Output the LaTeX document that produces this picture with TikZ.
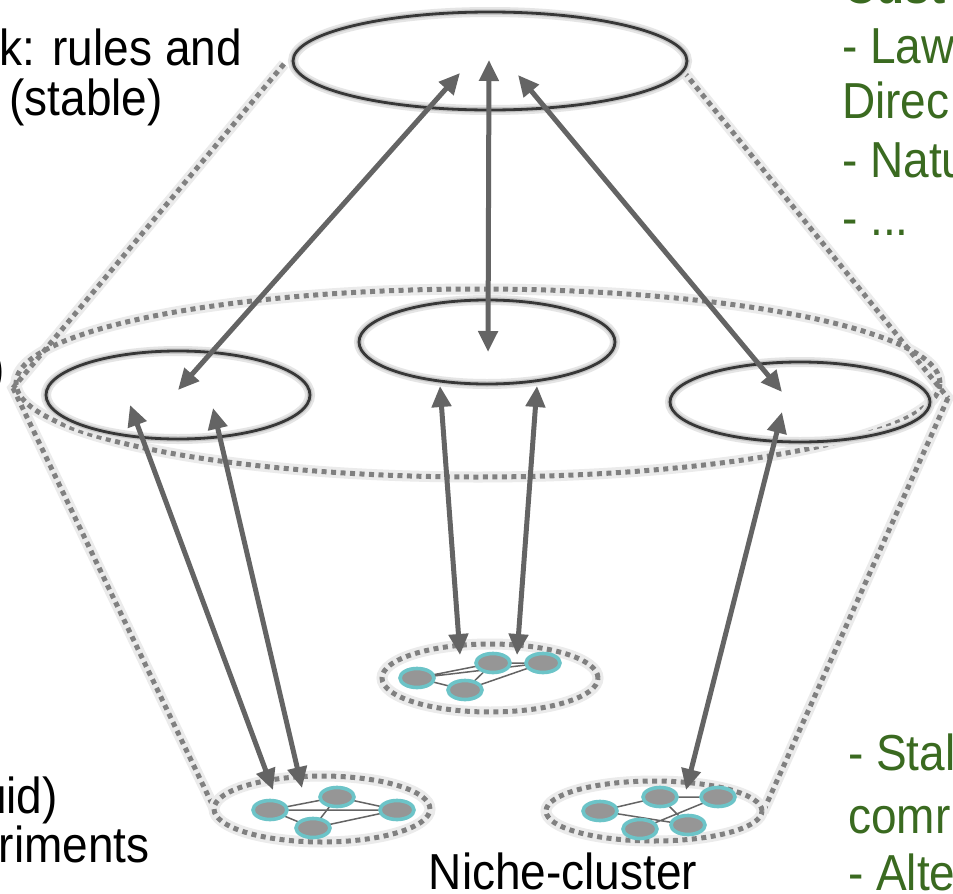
\documentclass[tikz,border=0pt]{standalone}
\usepackage{fontspec}
\setmainfont{Liberation Sans}
\usetikzlibrary{arrows.meta,shapes.geometric}
\definecolor{grn}{RGB}{58,106,32}
\definecolor{arr}{RGB}{100,100,100}
\definecolor{dots}{RGB}{128,128,128}
\definecolor{ring}{RGB}{55,55,55}
\definecolor{teal}{RGB}{108,196,200}
\definecolor{nfill}{RGB}{150,150,150}
\newcommand{\tall}[1]{\scalebox{1}[1.1]{#1}}
\tikzset{
  ringbox/.style={ellipse, inner sep=0pt, draw=ring, line width=2.8pt,
    preaction={draw=black!10, line width=10pt},
    preaction={draw=black!22, line width=5.5pt}},
  dotbox/.style={ellipse, inner sep=0pt, draw=dots, line width=5pt,
    dash pattern=on 5pt off 4.5pt,
    preaction={draw=black!8, line width=11pt, solid}},
  dotline/.style={draw=dots, line width=5pt, dash pattern=on 5pt off 4.5pt},
  dotshadow/.style={draw=black!8, line width=11pt},
  dblarrow/.style={draw=arr, line width=5pt,
    {Triangle[length=21pt,width=19pt]}-{Triangle[length=21pt,width=19pt]}},
  netnode/.style={ellipse, inner sep=0pt, minimum width=34pt, minimum height=19pt,
    fill=nfill, draw=teal, line width=3.6pt},
  netedge/.style={draw=arr, line width=1.5pt},
  bigtxt/.style={inner sep=0pt, font=\fontsize{46}{50}\selectfont},
}
\begin{document}
\begin{tikzpicture}[x=1pt,y=-1pt]
\useasboundingbox (0,0) rectangle (953,894);
\clip (0,0) rectangle (953,894);
\fill[white] (0,0) rectangle (953,894);

% cone outline coordinates
\coordinate (ltop) at (284,64);
\coordinate (lcorner) at (13,388);
\coordinate (lbot) at (214,808);
\coordinate (rtop) at (684,72);
\coordinate (rcorner) at (948,398);
\coordinate (rbot) at (763,812);

% shadows of cone lines
\draw[dotshadow] (ltop) -- (lcorner) -- (lbot);
\draw[dotshadow] (rtop) -- (rcorner) -- (rbot);

% big dotted ellipse
\node[dotbox, minimum width=924pt, minimum height=188pt] (mid) at (478,383) {};

% cone lines
\draw[dotline] (ltop) -- (lcorner);
\draw[dotline] (lcorner) -- (lbot);
\draw[dotline] (rtop) -- (rcorner);
\draw[dotline] (rcorner) -- (rbot);

% solid ellipses
\node[ringbox, minimum width=394pt, minimum height=98pt] (top) at (490,61) {};
\node[ringbox, minimum width=264pt, minimum height=88pt] (left) at (178,395) {};
\node[ringbox, minimum width=256pt, minimum height=84pt] (center) at (487,342) {};
\node[ringbox, minimum width=260pt, minimum height=80pt] (right) at (800,402) {};

% cluster ellipses
\node[dotbox, minimum width=216pt, minimum height=66pt] (cl1) at (322,809) {};
\node[dotbox, minimum width=216pt, minimum height=68pt] (cl2) at (490,678) {};
\node[dotbox, minimum width=216pt, minimum height=60pt] (cl3) at (654,811) {};

% network nodes: left cluster
\coordinate (a1) at (270,810);
\coordinate (a2) at (337,797);
\coordinate (a3) at (397,810);
\coordinate (a4) at (313,828);
\draw[netedge] (a1)--(a2) (a1)--(a3) (a1)--(a4) (a2)--(a3) (a2)--(a4) (a4)--(a3);
\node[netnode] (na1) at (a1) {};
\node[netnode] (na2) at (a2) {};
\node[netnode] (na3) at (a3) {};
\node[netnode] (na4) at (a4) {};

% center cluster
\coordinate (b1) at (417,678);
\coordinate (b2) at (493,663);
\coordinate (b3) at (543,663);
\coordinate (b4) at (465,690);
\draw[netedge] (b1)--(b2) (b1)--(b3) (b1)--(b4) (b4)--(b2) (b4)--(b3) (b2)--(b3);
\node[netnode] (nb1) at (b1) {};
\node[netnode] (nb2) at (b2) {};
\node[netnode] (nb3) at (b3) {};
\node[netnode] (nb4) at (b4) {};

% right cluster
\coordinate (c1) at (600,811);
\coordinate (c2) at (660,797);
\coordinate (c3) at (718,797);
\coordinate (c4) at (640,829);
\coordinate (c5) at (688,825);
\draw[netedge] (c1)--(c2) (c1)--(c5) (c2)--(c3) (c2)--(c5) (c4)--(c3);
\node[netnode] (nc1) at (c1) {};
\node[netnode] (nc2) at (c2) {};
\node[netnode] (nc3) at (c3) {};
\node[netnode] (nc4) at (c4) {};
\node[netnode] (nc5) at (c5) {};

% arrow end points
\coordinate (t1) at (460,73);
\coordinate (t2) at (489,60);
\coordinate (t3) at (518,75);
\coordinate (l1) at (178,390);
\coordinate (m1) at (488,352);
\coordinate (r1) at (782,392);
\coordinate (l2) at (130,405);
\coordinate (l3) at (213,408);
\coordinate (m2) at (440,386);
\coordinate (m3) at (537,386);
\coordinate (r2) at (782,412);
\coordinate (p1) at (273,790);
\coordinate (p2) at (302,788);
\coordinate (q1) at (460,655);
\coordinate (q2) at (517,655);
\coordinate (s1) at (686,790);

\draw[dblarrow] (l1) -- (t1);
\draw[dblarrow] (m1) -- (t2);
\draw[dblarrow] (r1) -- (t3);
\draw[dblarrow] (l2) -- (p1);
\draw[dblarrow] (l3) -- (p2);
\draw[dblarrow] (m2) -- (q1);
\draw[dblarrow] (m3) -- (q2);
\draw[dblarrow] (r2) -- (s1);

% texts (black)
\node[bigtxt, anchor=base east] (tx1) at (242,65) {\tall{k: rules and}};
\node[bigtxt, anchor=base east] (tx2) at (163,115) {\tall{(stable)}};
\node[bigtxt, anchor=base east] (tx3) at (5,385) {\tall{)}};
\node[bigtxt, anchor=base east] (tx4) at (58,813) {\tall{uid)}};
\node[bigtxt, anchor=base east] (tx5) at (150,862) {\tall{riments}};
\node[bigtxt, anchor=base] (tx6) at (563,889) {\tall{Niche-cluster}};

% texts (green)
\node[bigtxt, text=grn, anchor=base west, font=\fontsize{46}{50}\selectfont\bfseries] (g0) at (843,4) {\tall{Cust}};
\node[bigtxt, text=grn, anchor=base west] (g1) at (842,63) {\tall{- Law}};
\node[bigtxt, text=grn, anchor=base west] (g2) at (842,118) {\tall{Direc}};
\node[bigtxt, text=grn, anchor=base west] (g3) at (842,177) {\tall{- Natu}};
\node[bigtxt, text=grn, anchor=base west] (g4) at (842,235) {\tall{- ...}};
\node[bigtxt, text=grn, anchor=base west] (g5) at (848,770) {\tall{- Stal}};
\node[bigtxt, text=grn, anchor=base west] (g6) at (848,833) {\tall{comr}};
\node[bigtxt, text=grn, anchor=base west] (g7) at (848,890) {\tall{- Alte}};
\end{tikzpicture}
\end{document}
